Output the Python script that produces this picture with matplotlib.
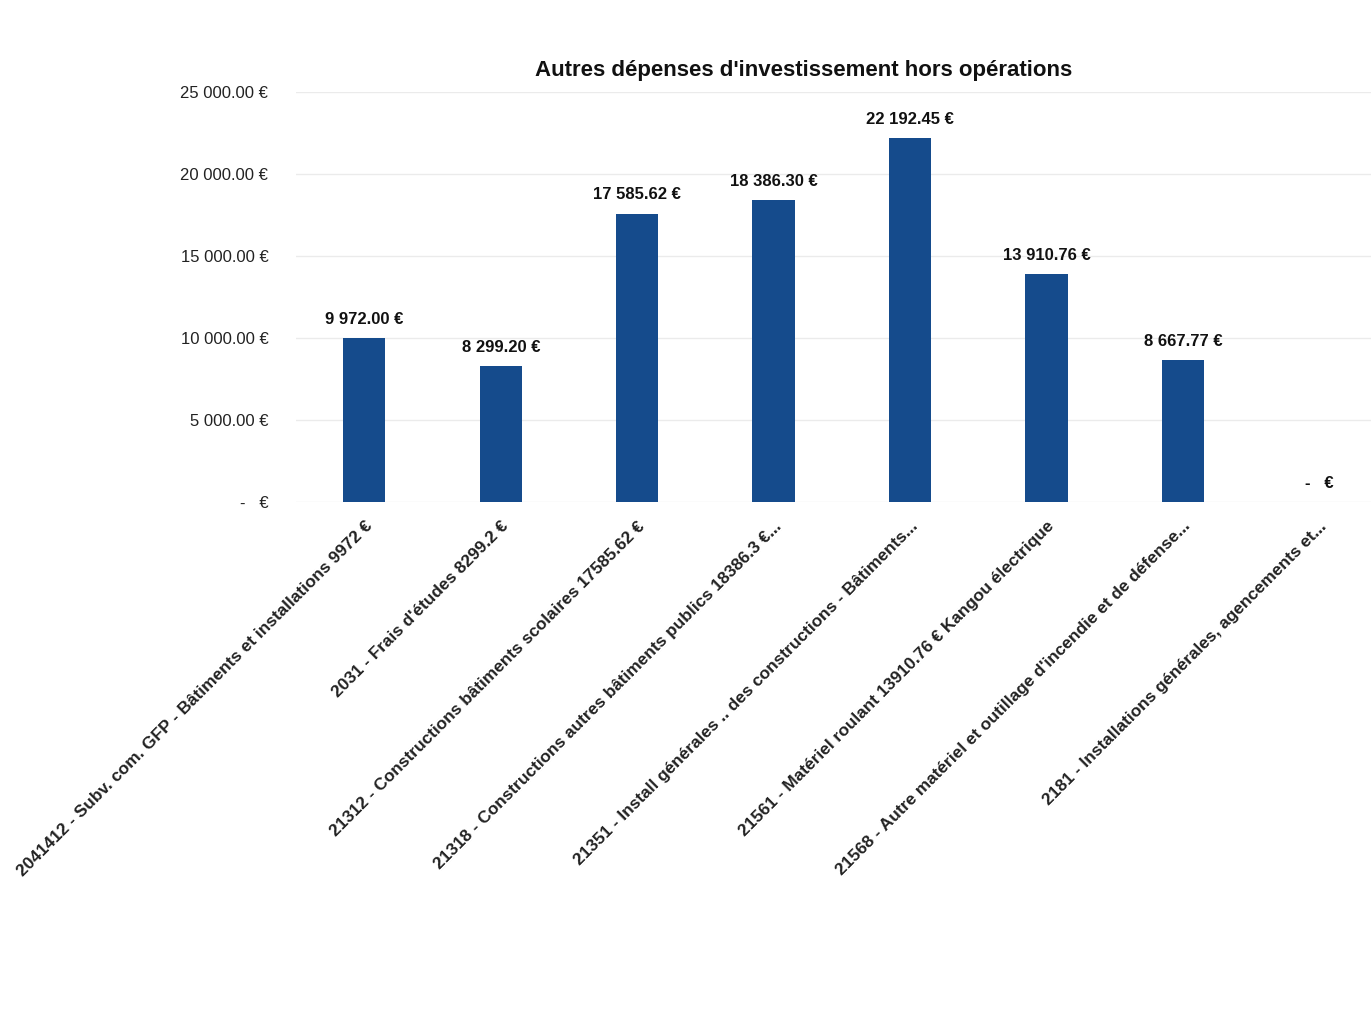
import numpy as np
import matplotlib.pyplot as plt
from matplotlib.ticker import FuncFormatter

# Chart data
categories = [
    "2041412 - Subv. com. GFP - Bâtiments et installations 9972 €",
    "2031 - Frais d'études 8299.2 €",
    "21312 - Constructions bâtiments scolaires 17585.62 €",
    "21318 - Constructions autres bâtiments publics 18386.3 €...",
    "21351 - Install générales .. des constructions - Bâtiments...",
    "21561 - Matériel roulant 13910.76 € Kangou électrique",
    "21568 - Autre matériel et outillage d'incendie et de défense...",
    "2181 - Installations générales, agencements et...",
]
amounts = [9972.00, 8299.20, 17585.62, 18386.30, 22192.45, 13910.76, 8667.77, 0.0]
yticks = [0, 5000, 10000, 15000, 20000, 25000]


def euro(v):
    if v == 0:
        return "-   €"
    s = f"{v:,.2f}".replace(",", " ")
    return s + " €"


plt.rcParams["font.family"] = ["Liberation Sans", "DejaVu Sans"]

fig = plt.figure(figsize=(13.71, 10.11), dpi=100)
ax = fig.add_axes([0.216, 0.5035, 0.796, 0.4055])

x = np.arange(len(categories))
bars = ax.bar(x, amounts, width=0.31, color="#154b8c", zorder=3)

ax.set_xlim(-0.5, len(categories) - 0.5)
ax.set_ylim(0, 25000)
ax.set_yticks(yticks)
ax.yaxis.set_major_formatter(FuncFormatter(lambda v, p: euro(v)))
ax.yaxis.grid(color="#ebebeb", linewidth=1, zorder=0)
ax.tick_params(axis="y", length=0, pad=20, labelsize=12, labelcolor="#222222")
ax.tick_params(axis="x", length=0, pad=12)
for side in ["top", "right", "left", "bottom"]:
    ax.spines[side].set_visible(False)

ax.set_xticks(x)
ax.set_xticklabels(categories, rotation=45, ha="right", rotation_mode="anchor",
                   fontsize=12.4, fontweight="bold", color="#222222")

# Value labels above bars
for xi, v in zip(x, amounts):
    ax.annotate(euro(v), (xi, v), xytext=(0, 8), textcoords="offset points",
                ha="center", va="bottom", fontsize=12, fontweight="bold",
                color="#111111")

fig.text(0.586, 0.93, "Autres dépenses d'investissement hors opérations",
         ha="center", va="center", fontsize=16, fontweight="bold", color="#111111")

plt.savefig("out.png")
